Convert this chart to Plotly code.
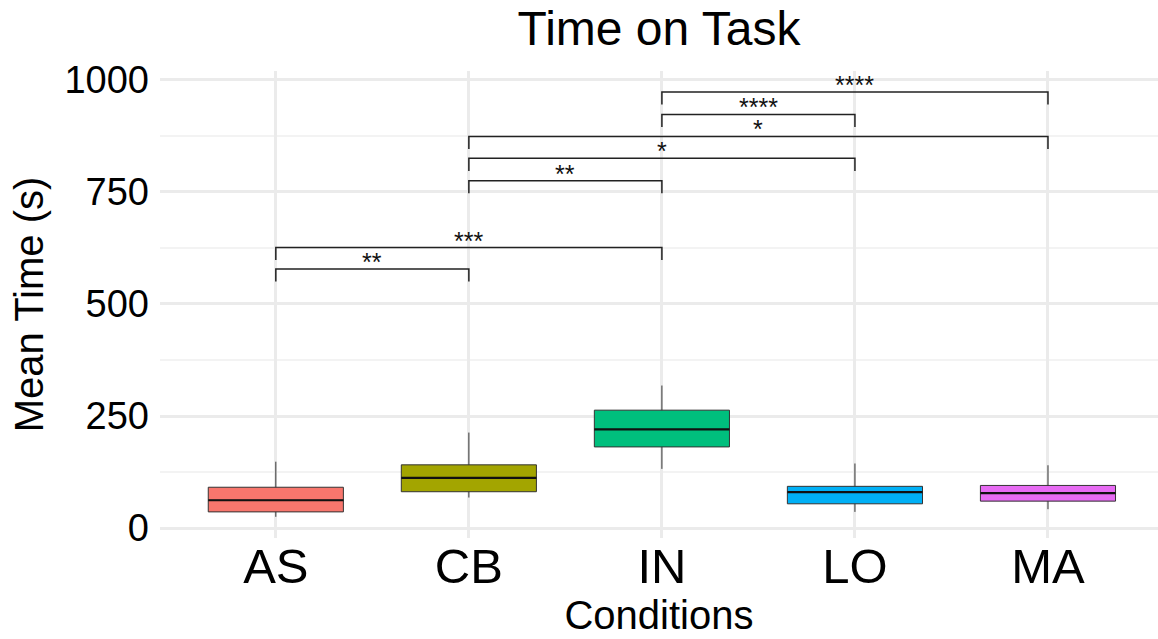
import plotly.graph_objects as go

# Conditions and box-plot summaries of mean time on task (seconds)
conditions = ["AS", "CB", "IN", "LO", "MA"]
lower_whisker = [25, 68, 132, 36, 42]
q1 = [36, 81, 181, 54, 60]
median = [62, 112, 220, 80, 78]
q3 = [91, 141, 263, 93, 95]
upper_whisker = [148, 213, 318, 144, 140]
fill_colors = ["#F8766D", "#A3A500", "#00BF7D", "#00B0F6", "#E76BF3"]

# Pairwise significance brackets: (group A, group B, bracket height, label)
comparisons = [
    ("AS", "CB", 578, "**"),
    ("AS", "IN", 626, "***"),
    ("CB", "IN", 775, "**"),
    ("CB", "LO", 825, "*"),
    ("CB", "MA", 874, "*"),
    ("IN", "LO", 923, "****"),
    ("IN", "MA", 973, "****"),
]
tip_length = 28

y_ticks = [0, 250, 500, 750, 1000]
y_minor = [125, 375, 625, 875]

FONT = "Liberation Sans, Arial, sans-serif"
BOX_WIDTH = 0.7

fig = go.Figure()

for i, cond in enumerate(conditions):
    fig.add_trace(go.Box(
        x=[cond],
        q1=[q1[i]], median=[median[i]], q3=[q3[i]],
        lowerfence=[lower_whisker[i]], upperfence=[upper_whisker[i]],
        fillcolor=fill_colors[i],
        line=dict(color="#333333", width=1),
        whiskerwidth=0,
        width=BOX_WIDTH,
        boxpoints=False,
        hoverinfo="skip",
        showlegend=False,
    ))
    # heavier median bar, as in ggplot boxplots
    fig.add_trace(go.Scatter(
        x=[i - BOX_WIDTH / 2, i + BOX_WIDTH / 2],
        y=[median[i], median[i]],
        xaxis="x2",
        mode="lines",
        line=dict(color="#111111", width=2.2),
        hoverinfo="skip",
        showlegend=False,
    ))

shapes = []
annotations = []
for a, b, h, label in comparisons:
    xa, xb = conditions.index(a), conditions.index(b)
    path = f"M {xa} {h - tip_length} L {xa} {h} L {xb} {h} L {xb} {h - tip_length}"
    shapes.append(dict(type="path", path=path, xref="x2", yref="y",
                       line=dict(color="#222222", width=1.5)))
    annotations.append(dict(x=(xa + xb) / 2, y=h, xref="x2", yref="y",
                            text=label, showarrow=False, yanchor="bottom",
                            yshift=-9, font=dict(size=25, color="#111111", family=FONT)))

x_range = [-0.6, 4.57]

fig.update_layout(
    width=1158, height=639,
    margin=dict(l=160, r=0, t=71, b=101),
    paper_bgcolor="white", plot_bgcolor="white",
    font=dict(family=FONT, color="black"),
    title=dict(text="Time on Task", x=(160 + 1158) / 2 / 1158, xanchor="center",
               xref="container", yref="container", y=1 - 28 / 639, yanchor="middle",
               font=dict(size=48, family=FONT, color="black")),
    boxmode="overlay",
    shapes=shapes,
    annotations=annotations,
    xaxis=dict(
        type="category", categoryorder="array", categoryarray=conditions,
        range=x_range, showgrid=True, gridcolor="#EBEBEB", gridwidth=2.5,
        zeroline=False, showline=False, ticks="",
        tickfont=dict(size=49, family=FONT, color="black"),
        ticklabelstandoff=-5,
        title=dict(text="Conditions", font=dict(size=40, family=FONT, color="black"),
                   standoff=4),
    ),
    xaxis2=dict(
        overlaying="x", range=x_range, visible=False, showgrid=False,
    ),
    yaxis=dict(
        range=[-22.3, 1020], tickvals=y_ticks, showgrid=True,
        gridcolor="#EBEBEB", gridwidth=2.5, zeroline=False, showline=False,
        ticks="", tickfont=dict(size=38, family=FONT, color="black"),
        ticklabelstandoff=10,
        minor=dict(tickvals=y_minor, showgrid=True, gridcolor="#F3F3F3", gridwidth=1.5),
        title=dict(text="Mean Time (s)", font=dict(size=40, family=FONT, color="black"),
                   standoff=8),
    ),
)

fig.write_html("out.html")
